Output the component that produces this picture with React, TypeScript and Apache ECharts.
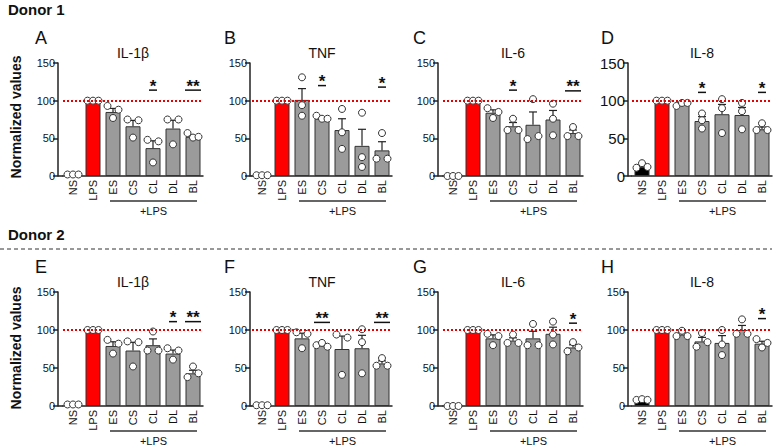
import React, { useEffect, useRef } from 'react';
import * as echarts from 'echarts';

const categories = ['NS', 'LPS', 'ES', 'CS', 'CL', 'DL', 'BL'];
const panelLetters = ['A', 'B', 'C', 'D', 'E', 'F', 'G', 'H'];
const panelTitles = ['IL-1β', 'TNF', 'IL-6', 'IL-8', 'IL-1β', 'TNF', 'IL-6', 'IL-8'];
const donorLabels = ['Donor 1', 'Donor 2'];
const yAxisName = 'Normalized values';
const groupLabel = '+LPS';
const refLevel = 100;

// Donor 1
const meanA = [2, 100, 85, 66, 37, 63, 52];
const semA = [0.3, 0, 4.7, 7.8, 9.7, 11, 1.9];
const pointsA = [[2, 2, 2], [100, 100, 100], [93, 77, 88], [75, 51, 74], [48, 18, 46], [75, 42, 75], [57, 51, 52]];
const sigA = [[4, 114, 1], [6, 114, 2]];

const meanB = [1, 100, 101, 76, 61, 40, 34];
const semB = [0.2, 0, 15, 1.3, 15, 22, 11.5];
const pointsB = [[1, 1, 1], [100, 100, 100], [131, 94, 80], [80, 76, 76], [89, 58, 36], [84, 25, 12], [23, 57, 23]];
const sigB = [[3, 120, 1], [6, 118, 1]];

const meanC = [0, 100, 84, 66, 68, 75, 57];
const semC = [0.2, 0, 3.8, 5, 17, 12, 4];
const pointsC = [[0, 0, 0], [100, 100, 100], [90, 77, 85], [61, 76, 61], [49, 102, 53], [96, 76, 54], [53, 65, 53]];
const sigC = [[3, 114, 1], [6, 113, 2]];

const meanD = [12, 100, 95, 73, 82, 81, 62];
const semD = [1.8, 0, 1.3, 5.8, 13, 10, 3];
const pointsD = [[11, 17, 12], [100, 100, 100], [93, 97, 97], [83, 74, 63], [102, 90, 57], [97, 86, 62], [61, 70, 61]];
const sigD = [[3, 111, 1], [6, 111, 1]];

// Donor 2
const meanE = [2, 100, 79, 73, 80, 69, 43];
const semE = [0.3, 0, 5.5, 10.8, 8.3, 4.6, 4];
const pointsE = [[2, 2, 2], [100, 100, 100], [87, 69, 82], [85, 52, 84], [73, 98, 73], [76, 61, 73], [38, 52, 43]];
const sigE = [[5, 111, 1], [6, 111, 2]];

const meanF = [1, 100, 89, 80, 75, 76, 56];
const semF = [0.2, 0, 6.8, 1.5, 17, 17, 3.3];
const pointsF = [[1, 1, 1], [100, 100, 100], [97, 76, 95], [80, 83, 78], [94, 41, 90], [101, 84, 43], [53, 63, 53]];
const sigF = [[3, 110, 2], [6, 110, 2]];

const meanG = [0, 100, 89, 86, 89, 95, 77];
const semG = [0.2, 0, 4.6, 3.7, 9.3, 8.7, 3.5];
const pointsG = [[0, 0, 0], [100, 100, 100], [95, 80, 92], [83, 94, 83], [80, 108, 80], [111, 94, 81], [72, 84, 77]];
const sigG = [[6, 109, 1]];

const meanH = [8, 100, 94, 85, 83, 100, 82];
const semH = [0.3, 0, 2.3, 5.3, 9.6, 6, 3.2];
const pointsH = [[8, 9, 8], [100, 100, 100], [92, 99, 92], [78, 96, 84], [100, 81, 67], [95, 114, 95], [88, 77, 83]];
const sigH = [[6, 115, 1]];

const panels = [
  { mean: meanA, sem: semA, pts: pointsA, sig: sigA, nsBlack: false },
  { mean: meanB, sem: semB, pts: pointsB, sig: sigB, nsBlack: false },
  { mean: meanC, sem: semC, pts: pointsC, sig: sigC, nsBlack: false },
  { mean: meanD, sem: semD, pts: pointsD, sig: sigD, nsBlack: true },
  { mean: meanE, sem: semE, pts: pointsE, sig: sigE, nsBlack: false },
  { mean: meanF, sem: semF, pts: pointsF, sig: sigF, nsBlack: false },
  { mean: meanG, sem: semG, pts: pointsG, sig: sigG, nsBlack: false },
  { mean: meanH, sem: semH, pts: pointsH, sig: sigH, nsBlack: true },
];

// layout
const FONT = 'Liberation Sans, Arial, Helvetica, sans-serif';
const colLeft = [63, 252, 443, 632];
const yOffset = [5, 2, 5, 4];
const letterX = [35, 224, 413, 601];
const rowTop = [63, 292];
const rowHeight = [113, 114];
const gridW = 140;
const INK = '#222';

function jitter(vals: number[]): number[] {
  const out = vals.map(() => 0);
  const pairs: number[][] = [];
  for (let i = 0; i < vals.length; i++)
    for (let j = i + 1; j < vals.length; j++)
      if (Math.abs(vals[i] - vals[j]) < 9) pairs.push([i, j]);
  if (pairs.length === 0) return out;
  if (pairs.length === 1) {
    out[pairs[0][0]] = -5.5;
    out[pairs[0][1]] = 5.5;
    return out;
  }
  return vals.map((_, i) => (i - (vals.length - 1) / 2) * 5.5);
}

function buildOption() {
  const grid: any[] = [];
  const xAxis: any[] = [];
  const yAxis: any[] = [];
  const series: any[] = [];
  const graphic: any[] = [];

  donorLabels.forEach((t, r) => {
    graphic.push({
      type: 'text', left: 8, top: r === 0 ? 2 : 227,
      style: { text: t, fontSize: 15, fontWeight: 'bold', fontFamily: FONT, fill: '#111' },
    });
    graphic.push({
      type: 'text', x: 16, y: r === 0 ? 117 : 348, rotation: Math.PI / 2,
      style: { text: yAxisName, fontSize: 14, fontWeight: 'bold', fontFamily: FONT, fill: '#111', align: 'center', verticalAlign: 'middle' },
    });
  });
  graphic.push({
    type: 'line', shape: { x1: 0, y1: 249, x2: 772, y2: 249 },
    style: { stroke: '#333', lineWidth: 1, lineDash: [4, 3] },
  });

  panels.forEach((p, i) => {
    const row = i < 4 ? 0 : 1;
    const col = i % 4;
    const L = colLeft[col];
    const T = rowTop[row];
    const H = rowHeight[row];
    grid.push({ left: L, top: T, width: gridW, height: H });
    xAxis.push({
      type: 'category', gridIndex: i, data: categories,
      axisLine: { lineStyle: { color: INK, width: 1.5 } },
      axisTick: { show: false },
      axisLabel: { rotate: 90, fontSize: 11, color: '#111', margin: 4, interval: 0, fontFamily: FONT },
    });
    yAxis.push({
      type: 'value', gridIndex: i, min: 0, max: 150, interval: 50, offset: yOffset[col],
      axisLine: { show: true, lineStyle: { color: INK, width: 1.5 } },
      axisTick: { show: true, length: 5, lineStyle: { color: INK, width: 1.5 } },
      axisLabel: { fontSize: col === 3 && row === 0 ? 15 : 11, color: '#111', margin: 3, fontFamily: FONT },
      splitLine: { show: false },
    });

    series.push({
      type: 'bar', xAxisIndex: i, yAxisIndex: i, barWidth: 15, z: 2,
      data: p.mean.map((v, k) => ({
        value: v,
        itemStyle: { color: k === 1 ? '#ff0000' : k === 0 && p.nsBlack ? '#000000' : '#9b9b9b' },
      })),
      itemStyle: { borderColor: '#333', borderWidth: 1 },
      markLine: {
        silent: true, symbol: ['none', 'none'], label: { show: false },
        lineStyle: { color: '#e60000', type: [2, 2], width: 2 },
        data: [{ yAxis: refLevel }],
      },
    });

    series.push({
      type: 'custom', xAxisIndex: i, yAxisIndex: i, z: 3,
      encode: { x: 0, y: 1 },
      data: p.mean.map((m, k) => [k, m, p.sem[k]]),
      renderItem: (params: any, api: any) => {
        const x = api.value(0), m = api.value(1), s = api.value(2);
        const b = api.coord([x, m]);
        const t = api.coord([x, m + s]);
        return {
          type: 'group',
          children: [
            { type: 'line', shape: { x1: b[0], y1: b[1], x2: t[0], y2: t[1] }, style: { stroke: INK, lineWidth: 1.2 } },
            { type: 'line', shape: { x1: t[0] - 4, y1: t[1], x2: t[0] + 4, y2: t[1] }, style: { stroke: INK, lineWidth: 1.2 } },
          ],
        };
      },
    });

    const scatterData: any[] = [];
    p.pts.forEach((arr, k) => {
      const offs = jitter(arr);
      arr.forEach((v, j) => scatterData.push({ value: [k, v], symbolOffset: [offs[j], 0] }));
    });
    series.push({
      type: 'scatter', xAxisIndex: i, yAxisIndex: i, z: 4, symbol: 'circle', symbolSize: 7,
      itemStyle: { color: '#ffffff', borderColor: '#333', borderWidth: 1, opacity: 1 },
      data: scatterData,
    });

    series.push({
      type: 'custom', xAxisIndex: i, yAxisIndex: i, z: 5,
      encode: { x: 0, y: 1 },
      data: p.sig,
      renderItem: (params: any, api: any) => {
        const c = api.coord([api.value(0), api.value(1)]);
        const n = api.value(2);
        const w = n === 2 ? 16 : 8;
        return {
          type: 'group',
          children: [
            { type: 'line', shape: { x1: c[0] - w / 2, y1: c[1], x2: c[0] + w / 2, y2: c[1] }, style: { stroke: '#111', lineWidth: 1.5 } },
            {
              type: 'text',
              style: {
                text: n === 2 ? '**' : '*', x: c[0], y: c[1] - 4, align: 'center', verticalAlign: 'middle',
                fontSize: 17, fontWeight: 'bold', fontFamily: FONT, fill: '#111',
              },
            },
          ],
        };
      },
    });

    // annotations
    graphic.push({
      type: 'text', x: letterX[col], y: T - 25,
      style: { text: panelLetters[i], fontSize: 18, fontFamily: FONT, fill: '#111', verticalAlign: 'middle' },
    });
    graphic.push({
      type: 'text', x: L + gridW / 2, y: T - 10,
      style: { text: panelTitles[i], fontSize: 14, fontFamily: FONT, fill: '#111', align: 'center', verticalAlign: 'middle' },
    });
    const base = T + H;
    graphic.push({
      type: 'line', shape: { x1: L - yOffset[col], y1: base, x2: L, y2: base },
      style: { stroke: INK, lineWidth: 1.5 },
    });
    graphic.push({
      type: 'line', shape: { x1: L + 47, y1: base + 25, x2: L + 134, y2: base + 25 },
      style: { stroke: '#333', lineWidth: 1.5 },
    });
    graphic.push({
      type: 'text', x: L + 90.5, y: base + 35,
      style: { text: groupLabel, fontSize: 11, fontFamily: FONT, fill: '#111', align: 'center', verticalAlign: 'middle' },
    });
  });

  return { animation: false, backgroundColor: '#ffffff', grid, xAxis, yAxis, series, graphic };
}

export default function App() {
  const ref = useRef<HTMLDivElement>(null);
  useEffect(() => {
    document.body.style.margin = '0';
    const chart = echarts.init(ref.current as HTMLDivElement, null, { renderer: 'svg' });
    chart.setOption(buildOption() as any);
    return () => chart.dispose();
  }, []);
  return <div ref={ref} style={{ width: 778, height: 448 }} />;
}
